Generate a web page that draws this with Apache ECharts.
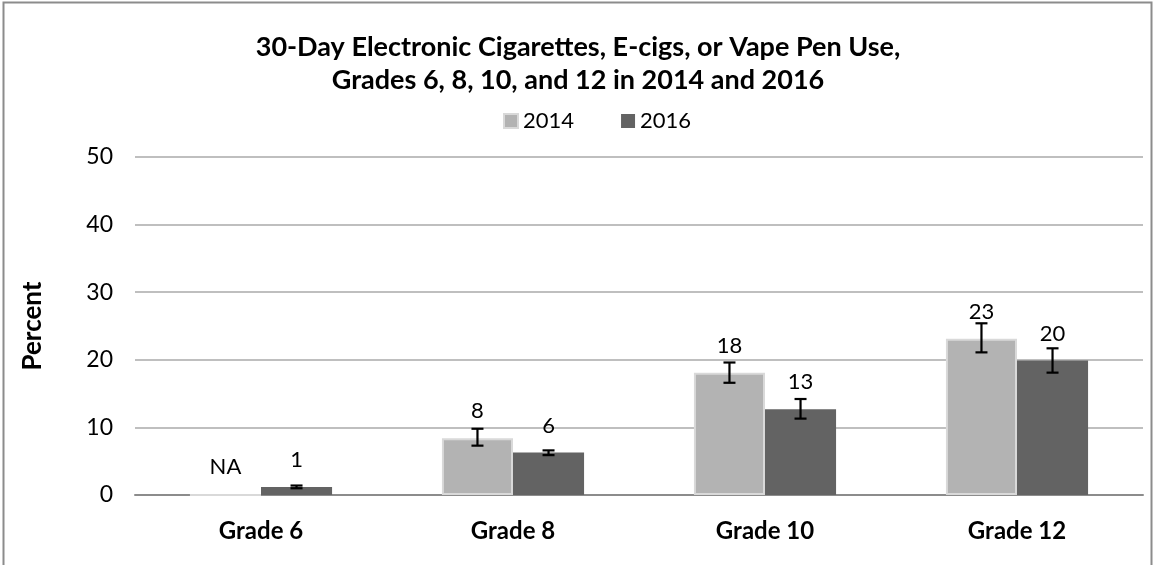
<!DOCTYPE html>
<html>
<head>
<meta charset="utf-8">
<script src="https://cdn.jsdelivr.net/npm/echarts@6/dist/echarts.min.js"></script>
<style>
html,body{margin:0;padding:0;background:#fff;}
#main{width:1156px;height:565px;}
</style>
</head>
<body>
<div id="main"></div>
<script>
const categories = ['Grade 6', 'Grade 8', 'Grade 10', 'Grade 12'];
const seriesNames = ['2014', '2016'];
const values2014 = [0, 8.4, 18.1, 23.1];
const labels2014 = ['NA', '8', '18', '23'];
const low2014 = [null, 7.3, 16.6, 21.1];
const high2014 = [null, 9.8, 19.6, 25.4];
const values2016 = [1.2, 6.3, 12.7, 19.9];
const labels2016 = ['1', '6', '13', '20'];
const low2016 = [1.0, 5.9, 11.3, 18.1];
const high2016 = [1.4, 6.6, 14.2, 21.7];
const yTicks = [0, 10, 20, 30, 40, 50];

const FONT = 'Lato, "Open Sans", sans-serif';
const chart = echarts.init(document.getElementById('main'));

function errorSeries(idx, low, high) {
  return {
    type: 'custom',
    name: 'err' + idx,
    z: 10,
    silent: true,
    data: categories.map((c, i) => [i, low[i], high[i]]),
    encode: { x: 0, y: [1, 2] },
    renderItem: function (params, api) {
      const lo = api.value(1), hi = api.value(2);
      if (lo == null || hi == null || isNaN(lo) || isNaN(hi)) return;
      const band = api.size([1, 0])[0];
      const barW = band * (1 - 0.436) / 2;
      const base = api.coord([api.value(0), lo]);
      const top = api.coord([api.value(0), hi]);
      const cx = base[0] + (idx === 0 ? -barW / 2 : barW / 2);
      const cap = 6;
      const style = { stroke: '#000', lineWidth: 2.2 };
      return {
        type: 'group',
        children: [
          { type: 'line', shape: { x1: cx, y1: base[1], x2: cx, y2: top[1] }, style: style },
          { type: 'line', shape: { x1: cx - cap, y1: base[1], x2: cx + cap, y2: base[1] }, style: style },
          { type: 'line', shape: { x1: cx - cap, y1: top[1], x2: cx + cap, y2: top[1] }, style: style }
        ]
      };
    }
  };
}

chart.setOption({
  animation: false,
  backgroundColor: '#fff',
  textStyle: { fontFamily: FONT },
  title: {
    text: '30-Day Electronic Cigarettes, E-cigs, or Vape Pen Use,\nGrades 6, 8, 10, and 12 in 2014 and 2016',
    left: 'center',
    top: 26,
    textStyle: { fontSize: 27, fontWeight: 'bold', color: '#000', lineHeight: 33, fontFamily: FONT }
  },
  legend: {
    data: seriesNames,
    top: 105,
    left: 498,
    itemWidth: 14,
    itemHeight: 14,
    itemGap: 47,
    icon: 'rect',
    textStyle: { fontSize: 22, color: '#000', fontFamily: FONT }
  },
  graphic: [{
    type: 'rect',
    shape: { x: 3.5, y: 2.5, width: 1148, height: 600 },
    style: { fill: 'none', stroke: '#8c8c8c', lineWidth: 2 },
    silent: true
  }],
  grid: { left: 135, right: 13, top: 157, bottom: 70 },
  xAxis: {
    type: 'category',
    data: categories,
    axisTick: { show: false },
    axisLine: { lineStyle: { color: '#8c8c8c', width: 2 } },
    axisLabel: { fontSize: 24, fontWeight: 'bold', color: '#000', margin: 24, fontFamily: FONT }
  },
  yAxis: {
    type: 'value',
    min: 0, max: 50, interval: 10,
    name: 'Percent',
    nameLocation: 'middle',
    nameGap: 89,
    nameTextStyle: { fontSize: 26, fontWeight: 'bold', color: '#000', fontFamily: FONT },
    axisLine: { show: false },
    axisTick: { show: false },
    axisLabel: { fontSize: 23, color: '#000', margin: 22, fontFamily: FONT,
      formatter: v => yTicks.indexOf(v) >= 0 ? String(v) : '' },
    splitLine: { lineStyle: { color: '#bfbfbf', width: 2 } }
  },
  series: [
    {
      name: '2014',
      type: 'bar',
      data: values2014,
      barGap: '0%',
      barCategoryGap: '43.6%',
      itemStyle: { color: '#b3b3b3', borderColor: '#d9d9d9', borderWidth: 2 },
      label: { show: true, position: 'top', distance: 16, fontSize: 22, color: '#000', fontFamily: FONT,
        formatter: p => labels2014[p.dataIndex] }
    },
    {
      name: '2016',
      type: 'bar',
      data: values2016,
      itemStyle: { color: '#636363' },
      label: { show: true, position: 'top', distance: 16, fontSize: 22, color: '#000', fontFamily: FONT,
        formatter: p => labels2016[p.dataIndex] }
    },
    errorSeries(0, low2014, high2014),
    errorSeries(1, low2016, high2016)
  ]
});
</script>
</body>
</html>
